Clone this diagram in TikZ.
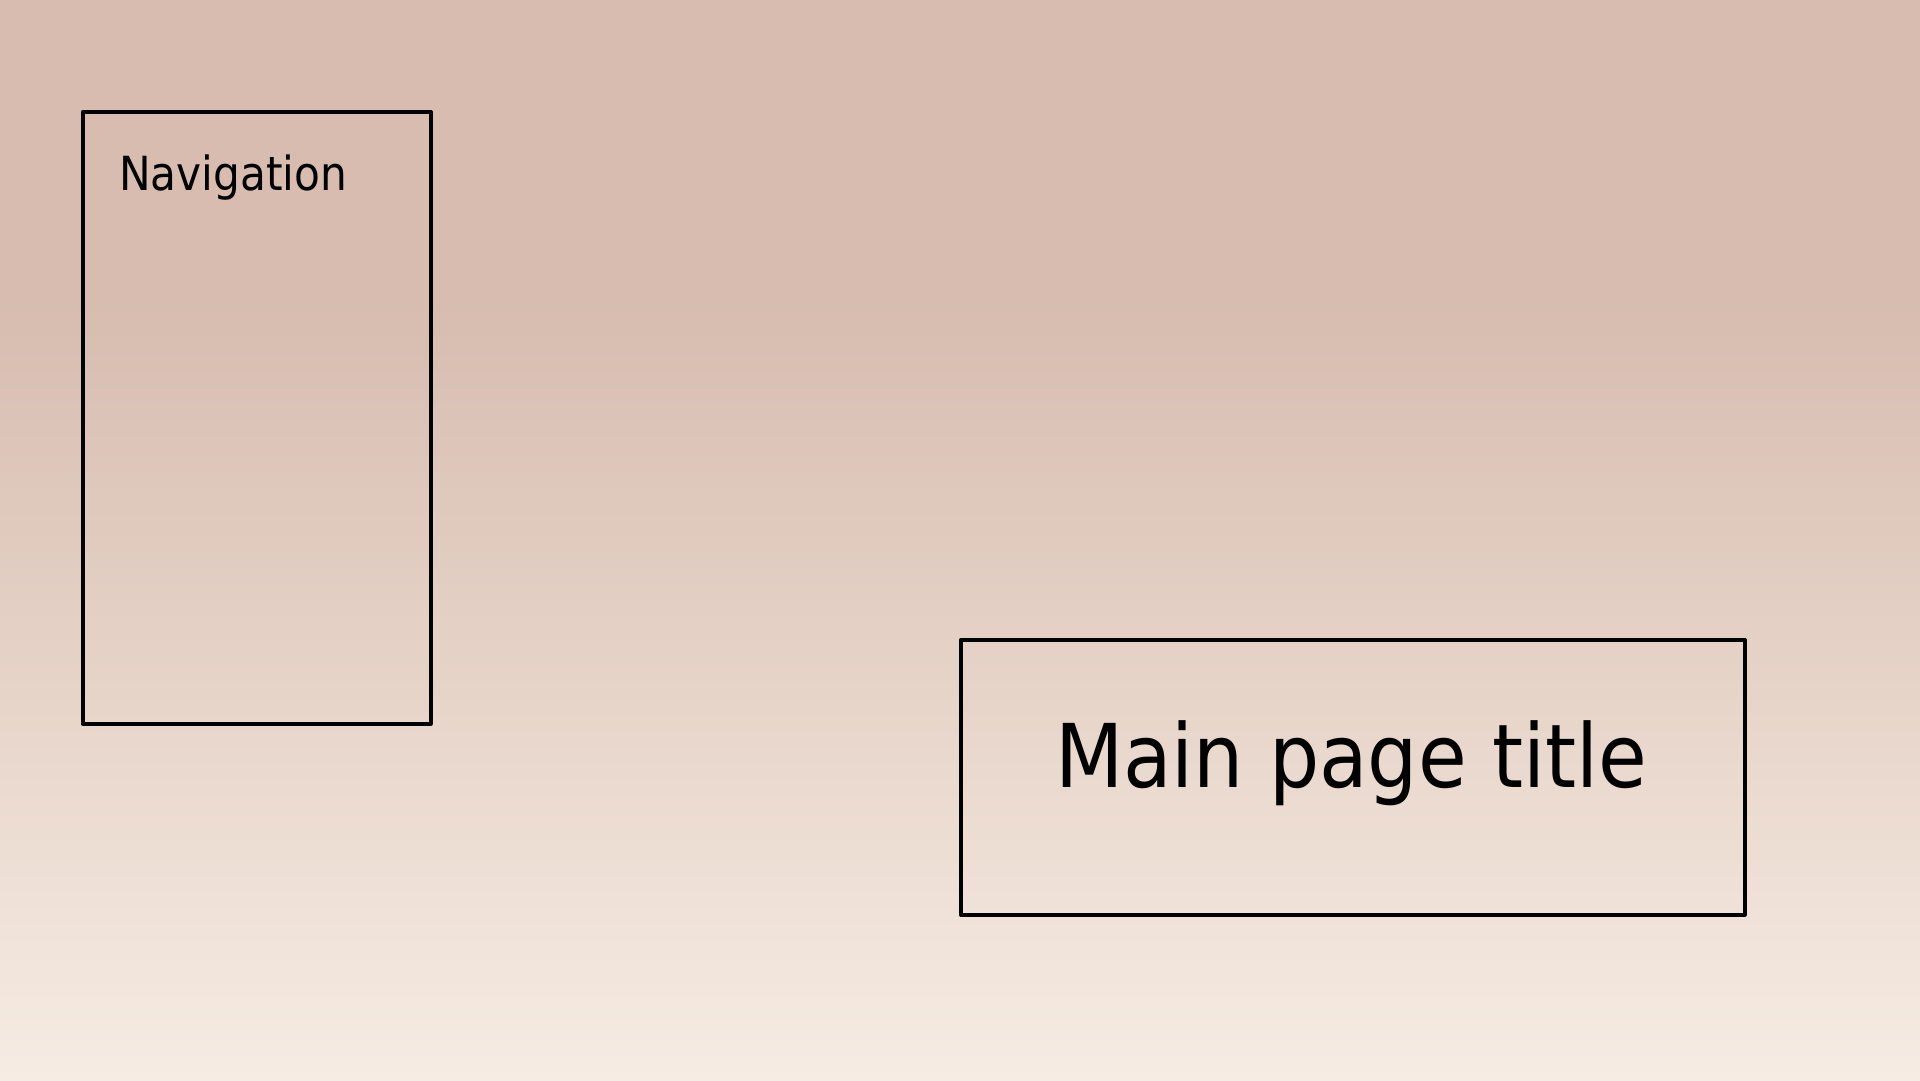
\documentclass[tikz,border=0pt]{standalone}
\usepackage{fontspec}
\setmainfont{DejaVu Sans Condensed}
\definecolor{bgtop}{RGB}{215,188,175}
\definecolor{bgbottom}{RGB}{246,236,227}
\tikzset{
  frame/.style={draw=black, line width=3.6pt, line join=round},
  navlabel/.style={anchor=base west, inner sep=0pt, font=\fontsize{47}{55}\selectfont},
  titlelabel/.style={anchor=base, inner sep=0pt, font=\fontsize{88}{100}\selectfont},
}
\begin{document}
\begin{tikzpicture}[x=1pt,y=-1pt]
  \useasboundingbox (0,0) rectangle (1920,1080);
  % page background: flat band above, soft gradient below
  \fill[bgtop] (0,0) rectangle (1920,300);
  \shade[top color=bgtop, bottom color=bgbottom] (0,299) rectangle (1920,1080);
  % navigation panel
  \node[frame, minimum width=348pt, minimum height=612pt, anchor=north west, inner sep=0pt] (nav) at (81,110) {};
  \node[navlabel] (navtext) at (119,190) {Navigation};
  % title panel
  \node[frame, minimum width=784pt, minimum height=275pt, anchor=north west, inner sep=0pt] (main) at (959,638) {};
  \node[titlelabel] (title) at (1351,787) {Main page title};
\end{tikzpicture}
\end{document}
